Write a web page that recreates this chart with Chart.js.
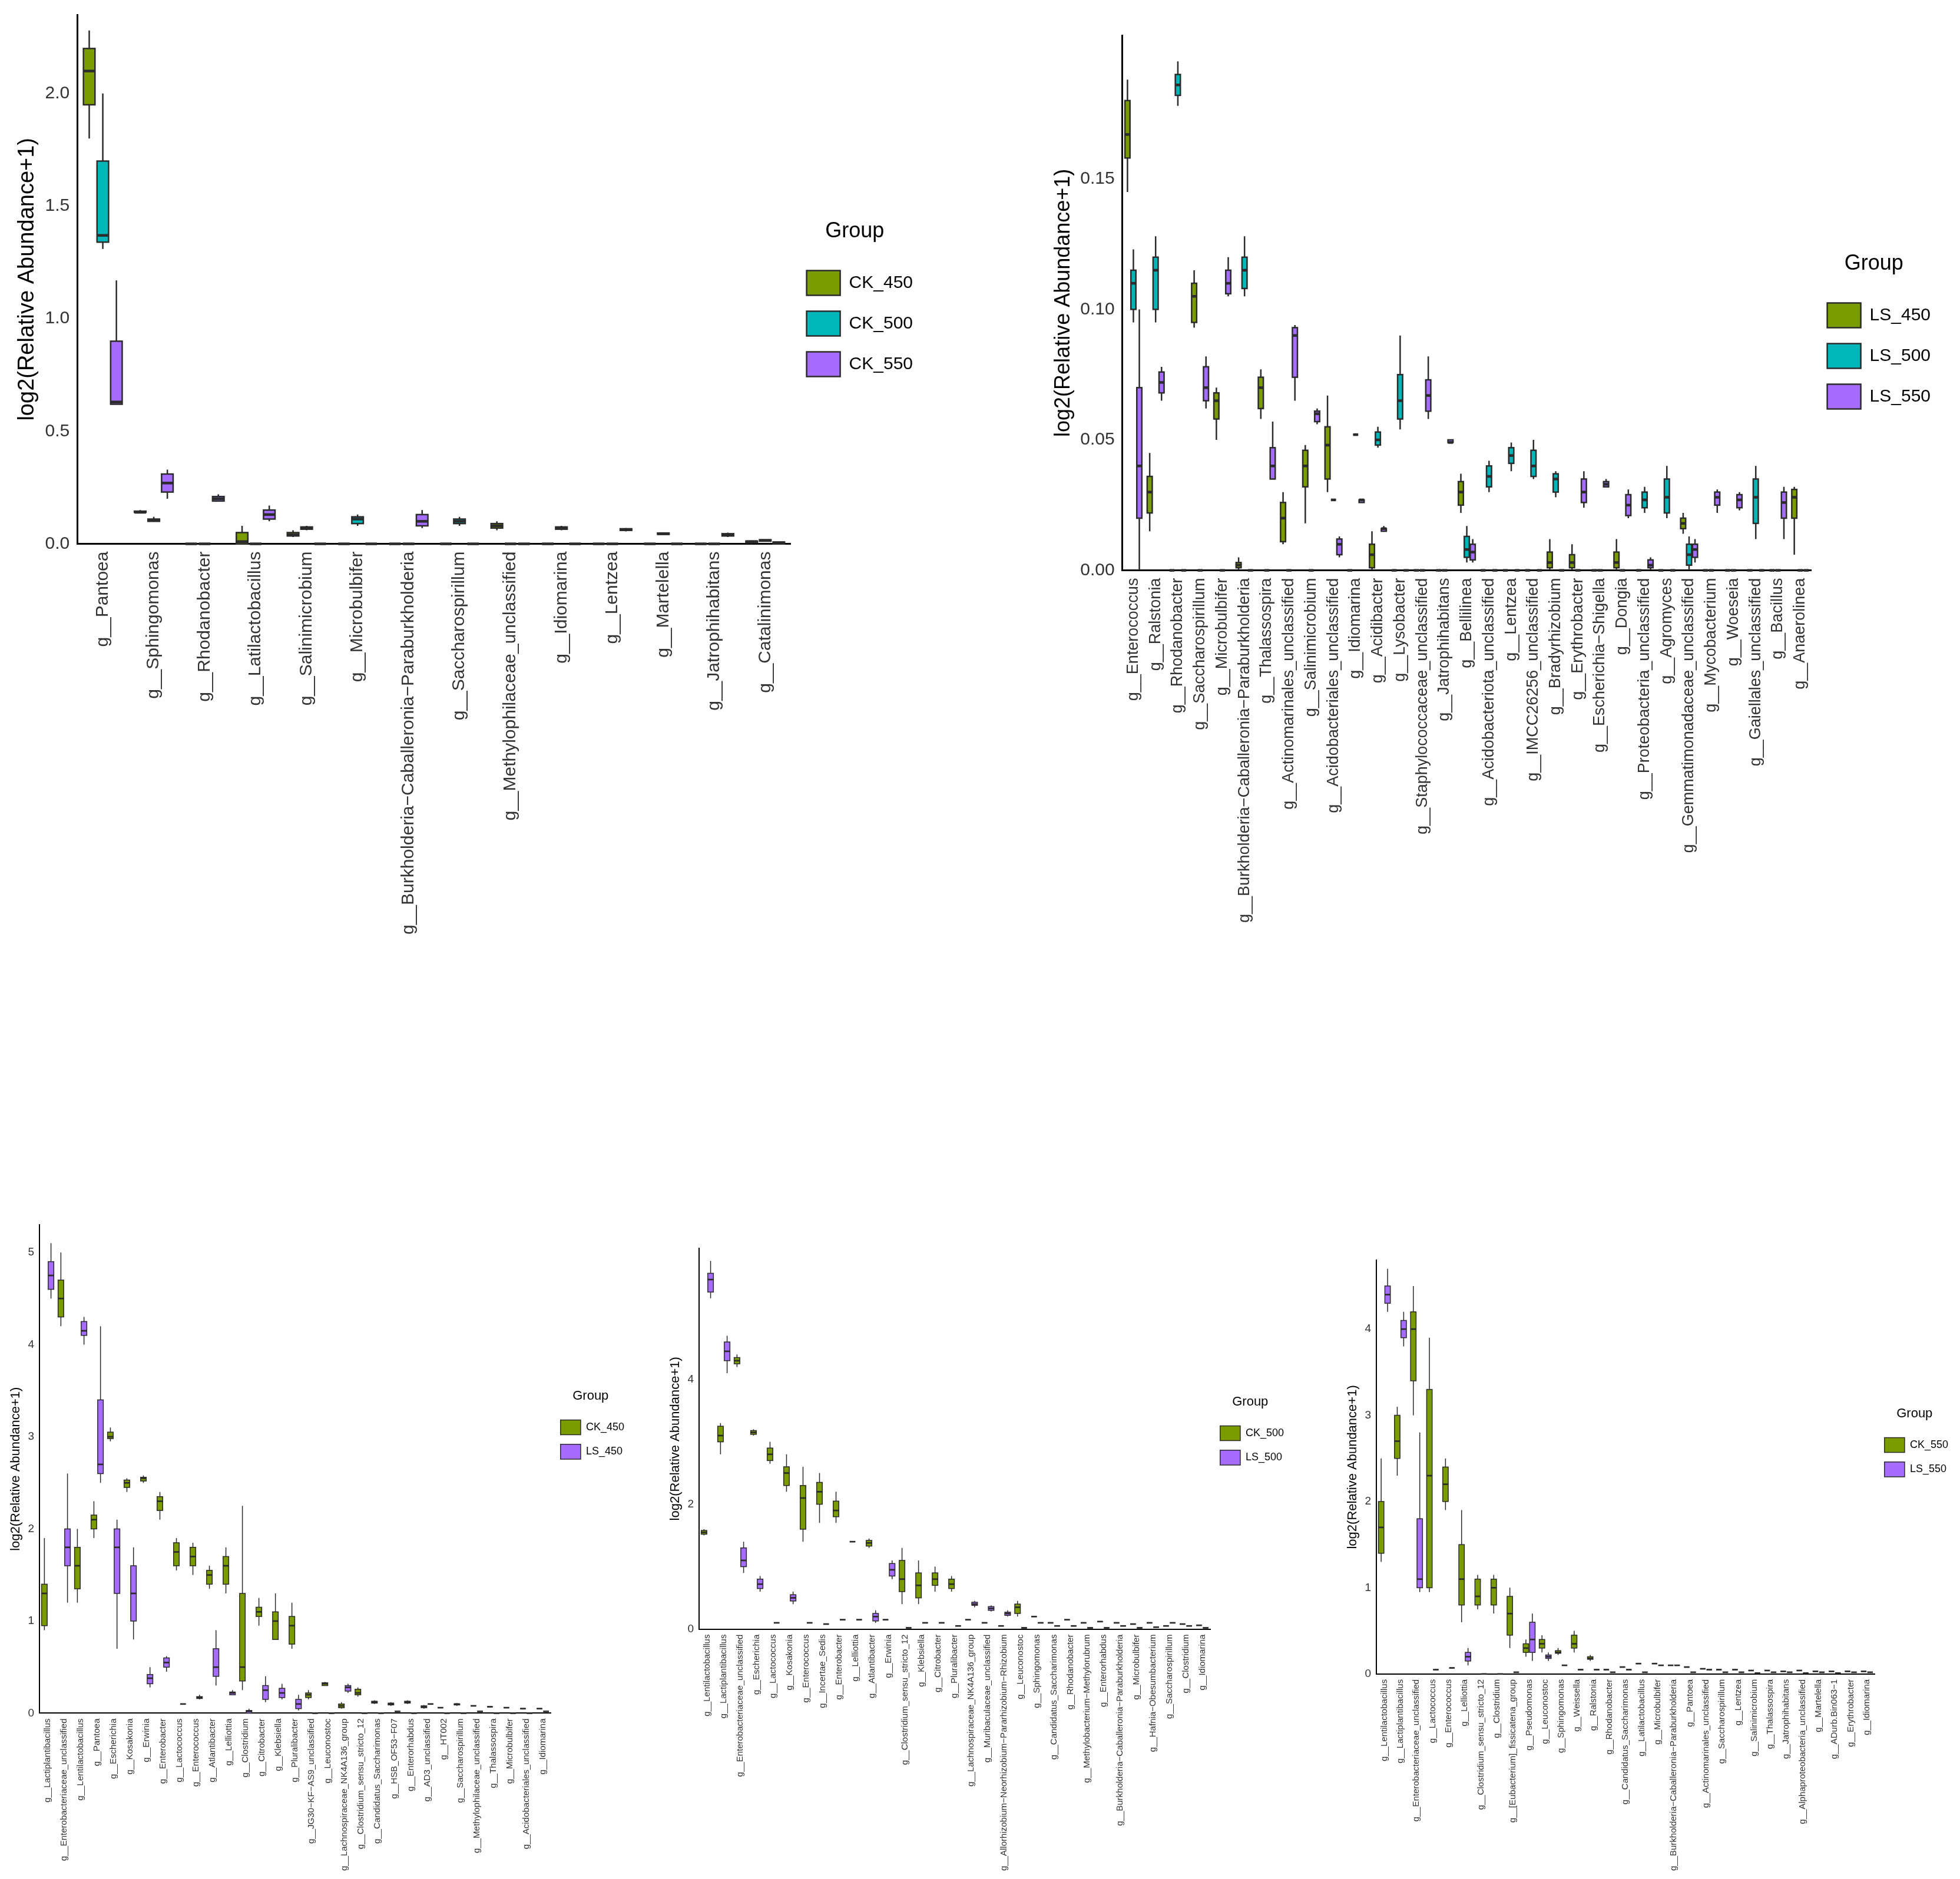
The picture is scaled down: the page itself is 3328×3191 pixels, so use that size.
<!DOCTYPE html>
<html><head><meta charset="utf-8">
<script src="https://cdn.jsdelivr.net/npm/chart.js@4.4.1/dist/chart.umd.min.js"></script>
<style>body{margin:0;background:#fff;width:3328px;height:3191px;position:relative;overflow:hidden}canvas{position:absolute}</style>
</head><body>
<canvas id="c1" style="left:0;top:0"></canvas>
<canvas id="c2" style="left:1760px;top:0"></canvas>
<canvas id="c3" style="left:0;top:2040px"></canvas>
<canvas id="c4" style="left:1110px;top:2080px"></canvas>
<canvas id="c5" style="left:2260px;top:2100px"></canvas>
<script>
const z = v => [v, v, v, v, v];
// ---------- Panel 1 ----------
const p1Cats = ["Pantoea","Sphingomonas","Rhodanobacter","Latilactobacillus","Salinimicrobium","Microbulbifer","Burkholderia−Caballeronia−Paraburkholderia","Saccharospirillum","Methylophilaceae_unclassified","Idiomarina","Lentzea","Martelella","Jatrophihabitans","Catalinimonas"];
const p1CK450 = [[1.8,1.95,2.1,2.2,2.28],[0.14,0.14,0.14,0.145,0.15],z(0),[0,0,0.01,0.05,0.08],[0.03,0.035,0.04,0.05,0.06],z(0),z(0),z(0),[0.06,0.07,0.08,0.09,0.1],z(0),z(0),z(0),z(0),[0,0.005,0.01,0.012,0.015]];
const p1CK500 = [[1.31,1.34,1.37,1.7,2.0],[0.1,0.1,0.105,0.11,0.12],z(0),z(0),[0.06,0.065,0.07,0.075,0.08],[0.08,0.09,0.11,0.12,0.13],z(0),[0.08,0.09,0.1,0.11,0.12],z(0),[0.06,0.065,0.07,0.075,0.08],z(0),[0.04,0.042,0.045,0.048,0.05],z(0),[0.01,0.012,0.015,0.018,0.02]];
const p1CK550 = [[0.62,0.62,0.63,0.9,1.17],[0.2,0.23,0.27,0.31,0.33],[0.19,0.19,0.2,0.21,0.22],[0.1,0.11,0.13,0.15,0.17],z(0),z(0),[0.07,0.08,0.1,0.13,0.15],z(0),z(0),z(0),[0.055,0.06,0.063,0.067,0.07],z(0),[0.03,0.035,0.04,0.045,0.05],[0,0,0.005,0.008,0.01]];
// ---------- Panel 2 ----------
const p2Cats = ["Enterococcus","Ralstonia","Rhodanobacter","Saccharospirillum","Microbulbifer","Burkholderia−Caballeronia−Paraburkholderia","Thalassospira","Actinomarinales_unclassified","Salinimicrobium","Acidobacteriales_unclassified","Idiomarina","Acidibacter","Lysobacter","Staphylococcaceae_unclassified","Jatrophihabitans","Bellilinea","Acidobacteriota_unclassified","Lentzea","IMCC26256_unclassified","Bradyrhizobium","Erythrobacter","Escherichia−Shigella","Dongia","Proteobacteria_unclassified","Agromyces","Gemmatimonadaceae_unclassified","Mycobacterium","Woeseia","Gaiellales_unclassified","Bacillus","Anaerolinea"];
const p2LS450 = [[0.145,0.158,0.167,0.18,0.188],[0.015,0.022,0.03,0.036,0.045],z(0),[0.093,0.095,0.105,0.11,0.115],[0.05,0.058,0.065,0.068,0.07],[0,0.001,0.002,0.003,0.005],[0.058,0.062,0.07,0.074,0.077],[0.01,0.011,0.02,0.026,0.03],[0.018,0.032,0.04,0.046,0.048],[0.03,0.035,0.048,0.055,0.067],z(0),[0,0.001,0.006,0.01,0.015],z(0),z(0),z(0),[0.022,0.025,0.03,0.034,0.037],z(0),z(0),z(0),[0,0.001,0.003,0.007,0.012],[0,0.001,0.003,0.006,0.01],z(0),[0,0.001,0.003,0.007,0.012],z(0),z(0),[0.014,0.016,0.018,0.02,0.022],z(0),z(0),z(0),z(0),[0.006,0.02,0.028,0.031,0.032]];
const p2LS500 = [[0.095,0.1,0.11,0.115,0.123],[0.095,0.1,0.115,0.12,0.128],[0.178,0.182,0.186,0.19,0.195],z(0),z(0),[0.105,0.108,0.115,0.12,0.128],z(0),z(0),z(0),z(0.027),z(0.052),[0.047,0.048,0.05,0.053,0.055],[0.054,0.058,0.065,0.075,0.09],z(0),z(0),[0.003,0.005,0.008,0.013,0.017],[0.03,0.032,0.036,0.04,0.042],[0.038,0.041,0.044,0.047,0.049],[0.035,0.036,0.04,0.046,0.05],[0.028,0.03,0.035,0.037,0.038],z(0),z(0),z(0),[0.022,0.024,0.027,0.03,0.032],[0.02,0.022,0.028,0.035,0.04],[0,0.002,0.006,0.01,0.013],z(0),z(0),[0.012,0.018,0.028,0.035,0.04],z(0),z(0)];
const p2LS550 = [[0,0.02,0.04,0.07,0.1],[0.065,0.068,0.072,0.076,0.078],z(0),[0.062,0.065,0.07,0.078,0.082],[0.105,0.106,0.11,0.115,0.12],z(0),[0.035,0.035,0.04,0.047,0.057],[0.065,0.074,0.09,0.093,0.094],[0.056,0.057,0.06,0.061,0.062],[0.005,0.006,0.01,0.012,0.013],[0.026,0.026,0.027,0.027,0.027],[0.015,0.015,0.016,0.016,0.017],z(0),[0.058,0.061,0.067,0.073,0.082],[0.049,0.049,0.049,0.05,0.05],[0.003,0.004,0.007,0.01,0.012],z(0),z(0),z(0),z(0),[0.024,0.026,0.03,0.035,0.038],[0.032,0.032,0.033,0.034,0.035],[0.02,0.021,0.025,0.029,0.031],[0,0.001,0.002,0.004,0.005],z(0),[0.003,0.005,0.008,0.01,0.012],[0.022,0.025,0.028,0.03,0.031],[0.023,0.024,0.027,0.029,0.03],z(0),[0.012,0.02,0.026,0.03,0.032],z(0)];
// ---------- Panel 3 ----------
const p3Cats = ["Lactiplantibacillus","Enterobacteriaceae_unclassified","Lentilactobacillus","Pantoea","Escherichia","Kosakonia","Erwinia","Enterobacter","Lactococcus","Enterococcus","Atlantibacter","Lelliottia","Clostridium","Citrobacter","Klebsiella","Pluralibacter","JG30−KF−AS9_unclassified","Leuconostoc","Lachnospiraceae_NK4A136_group","Clostridium_sensu_stricto_12","Candidatus_Saccharimonas","HSB_OF53−F07","Enterorhabdus","AD3_unclassified","HT002","Saccharospirillum","Methylophilaceae_unclassified","Thalassospira","Microbulbifer","Acidobacteriales_unclassified","Idiomarina"];
const p3CK450 = [[0.9,0.95,1.3,1.4,1.9],[4.2,4.3,4.5,4.7,5.0],[1.2,1.35,1.6,1.8,2.0],[1.9,2.0,2.1,2.15,2.3],[2.95,2.98,3.0,3.05,3.1],[2.4,2.45,2.5,2.53,2.55],[2.5,2.52,2.55,2.56,2.58],[2.1,2.2,2.3,2.35,2.4],[1.55,1.6,1.75,1.85,1.9],[1.5,1.6,1.7,1.8,1.85],[1.35,1.4,1.5,1.55,1.6],[1.3,1.4,1.6,1.7,1.8],[0.25,0.35,0.5,1.3,2.25],[0.95,1.05,1.1,1.15,1.25],[0.8,0.8,1.0,1.1,1.3],[0.7,0.75,0.95,1.05,1.2],[0.15,0.17,0.2,0.22,0.25],[0.3,0.3,0.32,0.33,0.34],[0.05,0.06,0.08,0.1,0.12],[0.18,0.2,0.22,0.26,0.28],[0.1,0.11,0.12,0.13,0.14],[0.08,0.09,0.1,0.11,0.12],[0.1,0.11,0.12,0.13,0.14],[0.05,0.06,0.07,0.08,0.09],z(0.06),[0.08,0.09,0.1,0.1,0.11],z(0.08),z(0.07),z(0.06),z(0.05),z(0.05)];
const p3LS450 = [[4.5,4.6,4.75,4.9,5.1],[1.2,1.6,1.8,2.0,2.6],[4.0,4.1,4.15,4.25,4.3],[2.5,2.6,2.7,3.4,4.2],[0.7,1.3,1.8,2.0,2.1],[0.8,1.0,1.3,1.6,1.8],[0.28,0.32,0.38,0.42,0.5],[0.45,0.5,0.55,0.6,0.62],z(0.1),[0.15,0.16,0.17,0.18,0.2],[0.3,0.4,0.5,0.7,0.9],[0.2,0.2,0.22,0.23,0.25],[0,0,0.02,0.03,0.05],[0.12,0.15,0.25,0.3,0.4],[0.15,0.17,0.22,0.27,0.32],[0.03,0.05,0.1,0.15,0.2],z(0),z(0),[0.22,0.24,0.28,0.3,0.32],z(0),z(0),z(0.02),z(0),z(0.1),z(0),z(0),z(0.02),z(0),z(0),z(0),z(0.02)];
// ---------- Panel 4 ----------
const p4Cats = ["Lentilactobacillus","Lactiplantibacillus","Enterobacteriaceae_unclassified","Escherichia","Lactococcus","Kosakonia","Enterococcus","Incertae_Sedis","Enterobacter","Lelliottia","Atlantibacter","Erwinia","Clostridium_sensu_stricto_12","Klebsiella","Citrobacter","Pluralibacter","Lachnospiraceae_NK4A136_group","Muribaculaceae_unclassified","Allorhizobium−Neorhizobium−Pararhizobium−Rhizobium","Leuconostoc","Sphingomonas","Candidatus_Saccharimonas","Rhodanobacter","Methylobacterium−Methylorubrum","Enterorhabdus","Burkholderia−Caballeronia−Paraburkholderia","Microbulbifer","Hafnia−Obesumbacterium","Saccharospirillum","Clostridium","Idiomarina"];
const p4CK500 = [[1.5,1.52,1.55,1.58,1.6],[2.8,3.0,3.1,3.25,3.3],[4.2,4.25,4.3,4.35,4.4],[3.1,3.12,3.15,3.18,3.2],[2.65,2.7,2.8,2.9,3.0],[2.2,2.3,2.5,2.6,2.8],[1.4,1.6,2.1,2.3,2.6],[1.7,2.0,2.2,2.35,2.5],[1.7,1.8,1.9,2.05,2.2],z(1.4),[1.3,1.33,1.38,1.42,1.45],z(0.15),[0.4,0.6,0.8,1.1,1.3],[0.4,0.5,0.7,0.9,1.1],[0.6,0.7,0.8,0.9,1.0],[0.6,0.65,0.72,0.8,0.85],z(0.15),z(0.1),z(0.05),[0.2,0.25,0.35,0.4,0.45],z(0.2),z(0.1),z(0.15),z(0.1),z(0.12),z(0.1),z(0.08),z(0.1),z(0.05),z(0.08),z(0.06)];
const p4LS500 = [[5.3,5.4,5.6,5.7,5.9],[4.1,4.3,4.45,4.6,4.7],[0.9,1.0,1.1,1.3,1.4],[0.6,0.65,0.72,0.8,0.85],z(0.1),[0.4,0.45,0.5,0.55,0.6],z(0.1),z(0.08),z(0.15),z(0.15),[0.1,0.13,0.2,0.25,0.3],[0.8,0.85,0.95,1.05,1.1],z(0.02),z(0.1),z(0.1),z(0.05),[0.35,0.38,0.4,0.43,0.45],[0.28,0.3,0.33,0.36,0.38],[0.2,0.22,0.25,0.27,0.3],z(0.02),z(0.1),z(0.05),z(0.05),z(0.02),z(0.02),z(0.05),z(0.02),z(0.03),z(0.1),z(0.05),z(0.02)];
// ---------- Panel 5 ----------
const p5Cats = ["Lentilactobacillus","Lactiplantibacillus","Enterobacteriaceae_unclassified","Lactococcus","Enterococcus","Lelliottia","Clostridium_sensu_stricto_12","Clostridium","[Eubacterium]_fissicatena_group","Pseudomonas","Leuconostoc","Sphingomonas","Weissella","Ralstonia","Rhodanobacter","Candidatus_Saccharimonas","Latilactobacillus","Microbulbifer","Burkholderia−Caballeronia−Paraburkholderia","Pantoea","Actinomarinales_unclassified","Saccharospirillum","Lentzea","Salinimicrobium","Thalassospira","Jatrophihabitans","Alphaproteobacteria_unclassified","Martelella","ADurb.Bin063−1","Erythrobacter","Idiomarina"];
const p5CK550 = [[1.3,1.4,1.7,2.0,2.5],[2.3,2.5,2.7,3.0,3.1],[3.0,3.4,4.0,4.2,4.5],[0.95,1.0,2.3,3.3,3.9],[1.9,2.0,2.2,2.4,2.5],[0.6,0.8,1.1,1.5,1.9],[0.75,0.8,0.9,1.1,1.15],[0.7,0.8,1.0,1.1,1.15],[0.3,0.45,0.7,0.9,1.0],[0.2,0.25,0.3,0.35,0.4],[0.25,0.3,0.35,0.4,0.45],[0.22,0.24,0.25,0.27,0.3],[0.25,0.3,0.35,0.45,0.5],[0.15,0.17,0.18,0.2,0.22],z(0.05),z(0.08),z(0.12),z(0.12),z(0.1),z(0.08),z(0.06),z(0.05),z(0.05),z(0.04),z(0.04),z(0.03),z(0.04),z(0.03),z(0.03),z(0.03),z(0.03)];
const p5LS550 = [[4.2,4.3,4.4,4.5,4.7],[3.8,3.9,4.0,4.1,4.2],[0.95,1.0,1.1,1.8,2.8],z(0.05),z(0.07),[0.1,0.15,0.2,0.25,0.3],z(0),z(0),z(0.02),[0.15,0.25,0.4,0.6,0.7],[0.15,0.18,0.2,0.22,0.25],z(0.1),z(0.05),z(0.05),z(0.02),z(0.05),z(0.02),z(0.1),z(0.1),z(0.02),z(0.05),z(0.02),z(0.02),z(0.01),z(0.02),z(0.02),z(0.01),z(0.02),z(0.01),z(0.02),z(0.02)];

const OLIVE = "#7a9c00", TEAL = "#00b6b9", PURPLE = "#a56cff", EDGE = "#2b2b2b";

const boxPlugin = {
  id: "boxes",
  afterDatasetsDraw(chart) {
    const ctx = chart.ctx, ys = chart.scales.y;
    const lw = chart.options.plugins.boxes.lw;
    chart.data.datasets.forEach((ds, i) => {
      const meta = chart.getDatasetMeta(i);
      meta.data.forEach((el, j) => {
        const s = ds.stats[j];
        const x = el.x, w = el.width;
        const p = v => ys.getPixelForValue(v);
        ctx.save();
        ctx.strokeStyle = EDGE; ctx.lineWidth = lw;
        ctx.beginPath();
        ctx.moveTo(x, p(s[0])); ctx.lineTo(x, p(s[1]));
        ctx.moveTo(x, p(s[3])); ctx.lineTo(x, p(s[4]));
        ctx.stroke();
        ctx.fillStyle = ds.boxColor;
        const top = p(s[3]), bot = p(s[1]);
        ctx.fillRect(x - w / 2, top, w, bot - top);
        ctx.strokeRect(x - w / 2, top, w, bot - top);
        ctx.lineWidth = lw * 1.8;
        ctx.beginPath(); ctx.moveTo(x - w / 2, p(s[2])); ctx.lineTo(x + w / 2, p(s[2])); ctx.stroke();
        ctx.restore();
      });
    });
  }
};

function make(id, w, h, cats, series, names, colors, yMax, yStep, sz, pad, legTop) {
  const cv = document.getElementById(id);
  cv.width = w; cv.height = h; cv.style.width = w + "px"; cv.style.height = h + "px";
  const datasets = series.map((s, k) => ({
    label: names[k], stats: s, data: s.map(b => [b[1], b[3]]),
    boxColor: colors[k], backgroundColor: "rgba(0,0,0,0)", borderWidth: 0,
    categoryPercentage: 0.8, barPercentage: 0.85
  }));
  new Chart(cv, {
    type: "bar",
    data: { labels: cats.map(c => "g__" + c), datasets },
    options: {
      responsive: false, animation: false, devicePixelRatio: 1,
      layout: { padding: pad },
      scales: {
        x: { grid: { display: false, drawTicks: true, tickLength: sz.tick, tickColor: "#333" },
             border: { color: "#000", width: sz.axis },
             ticks: { color: "#333", font: { family: "Liberation Sans", size: sz.x }, maxRotation: 90, minRotation: 90, autoSkip: false } },
        y: { min: 0, max: yMax, grid: { display: false, drawTicks: true, tickLength: sz.tick, tickColor: "#333" },
             border: { color: "#000", width: sz.axis },
             afterBuildTicks: sc => { sc.ticks = sc.ticks.filter(t => Math.abs(t.value / yStep - Math.round(t.value / yStep)) < 1e-6); },
             ticks: { stepSize: yStep, color: "#333", font: { family: "Liberation Sans", size: sz.y },
               callback: v => (yStep < 0.1 ? v.toFixed(2) : (yStep < 1 ? v.toFixed(1) : String(v))) },
             title: { display: true, text: "log2(Relative Abundance+1)", color: "#000", font: { family: "Liberation Sans", size: sz.t } } }
      },
      plugins: {
        boxes: { lw: sz.lw },
        tooltip: { enabled: false },
        legend: { position: "right", align: "start",
          title: { display: true, text: "Group", color: "#000", font: { family: "Liberation Sans", size: sz.lt }, padding: { top: legTop, bottom: sz.lt * 0.4 } },
          labels: { color: "#000", font: { family: "Liberation Sans", size: sz.l }, boxWidth: sz.l * 1.9, boxHeight: sz.l * 1.4, padding: sz.l * 0.9,
            generateLabels: ch => ch.data.datasets.map((d, k) => ({ text: d.label, fillStyle: colors[k], strokeStyle: EDGE, lineWidth: sz.lw, datasetIndex: k })) } }
      }
    },
    plugins: [boxPlugin]
  });
}
make("c1", 1620, 1600, p1Cats, [p1CK450, p1CK500, p1CK550], ["CK_450","CK_500","CK_550"], [OLIVE, TEAL, PURPLE], 2.35, 0.5,
  { x: 30, y: 30, t: 38, l: 30, lt: 36, tick: 10, axis: 3, lw: 2.5 }, { left: 20, top: 25, right: 60, bottom: 10 }, 350);
make("c2", 1568, 1580, p2Cats, [p2LS450, p2LS500, p2LS550], ["LS_450","LS_500","LS_550"], [OLIVE, TEAL, PURPLE], 0.205, 0.05,
  { x: 27, y: 30, t: 36, l: 30, lt: 36, tick: 10, axis: 3, lw: 2.5 }, { left: 20, top: 60, right: 40, bottom: 10 }, 370);
make("c3", 1100, 1150, p3Cats, [p3CK450, p3LS450], ["CK_450","LS_450"], [OLIVE, PURPLE], 5.3, 1,
  { x: 15, y: 19, t: 22, l: 18, lt: 22, tick: 6, axis: 2, lw: 1.5 }, { left: 10, top: 40, right: 30, bottom: 10 }, 280);
make("c4", 1110, 1110, p4Cats, [p4CK500, p4LS500], ["CK_500","LS_500"], [OLIVE, PURPLE], 6.1, 2,
  { x: 15, y: 19, t: 22, l: 18, lt: 22, tick: 6, axis: 2, lw: 1.5 }, { left: 20, top: 40, right: 30, bottom: 10 }, 250);
make("c5", 1068, 1090, p5Cats, [p5CK550, p5LS550], ["CK_550","LS_550"], [OLIVE, PURPLE], 4.8, 1,
  { x: 15, y: 19, t: 22, l: 18, lt: 22, tick: 6, axis: 2, lw: 1.5 }, { left: 20, top: 40, right: 10, bottom: 10 }, 250);
</script>
</body></html>
